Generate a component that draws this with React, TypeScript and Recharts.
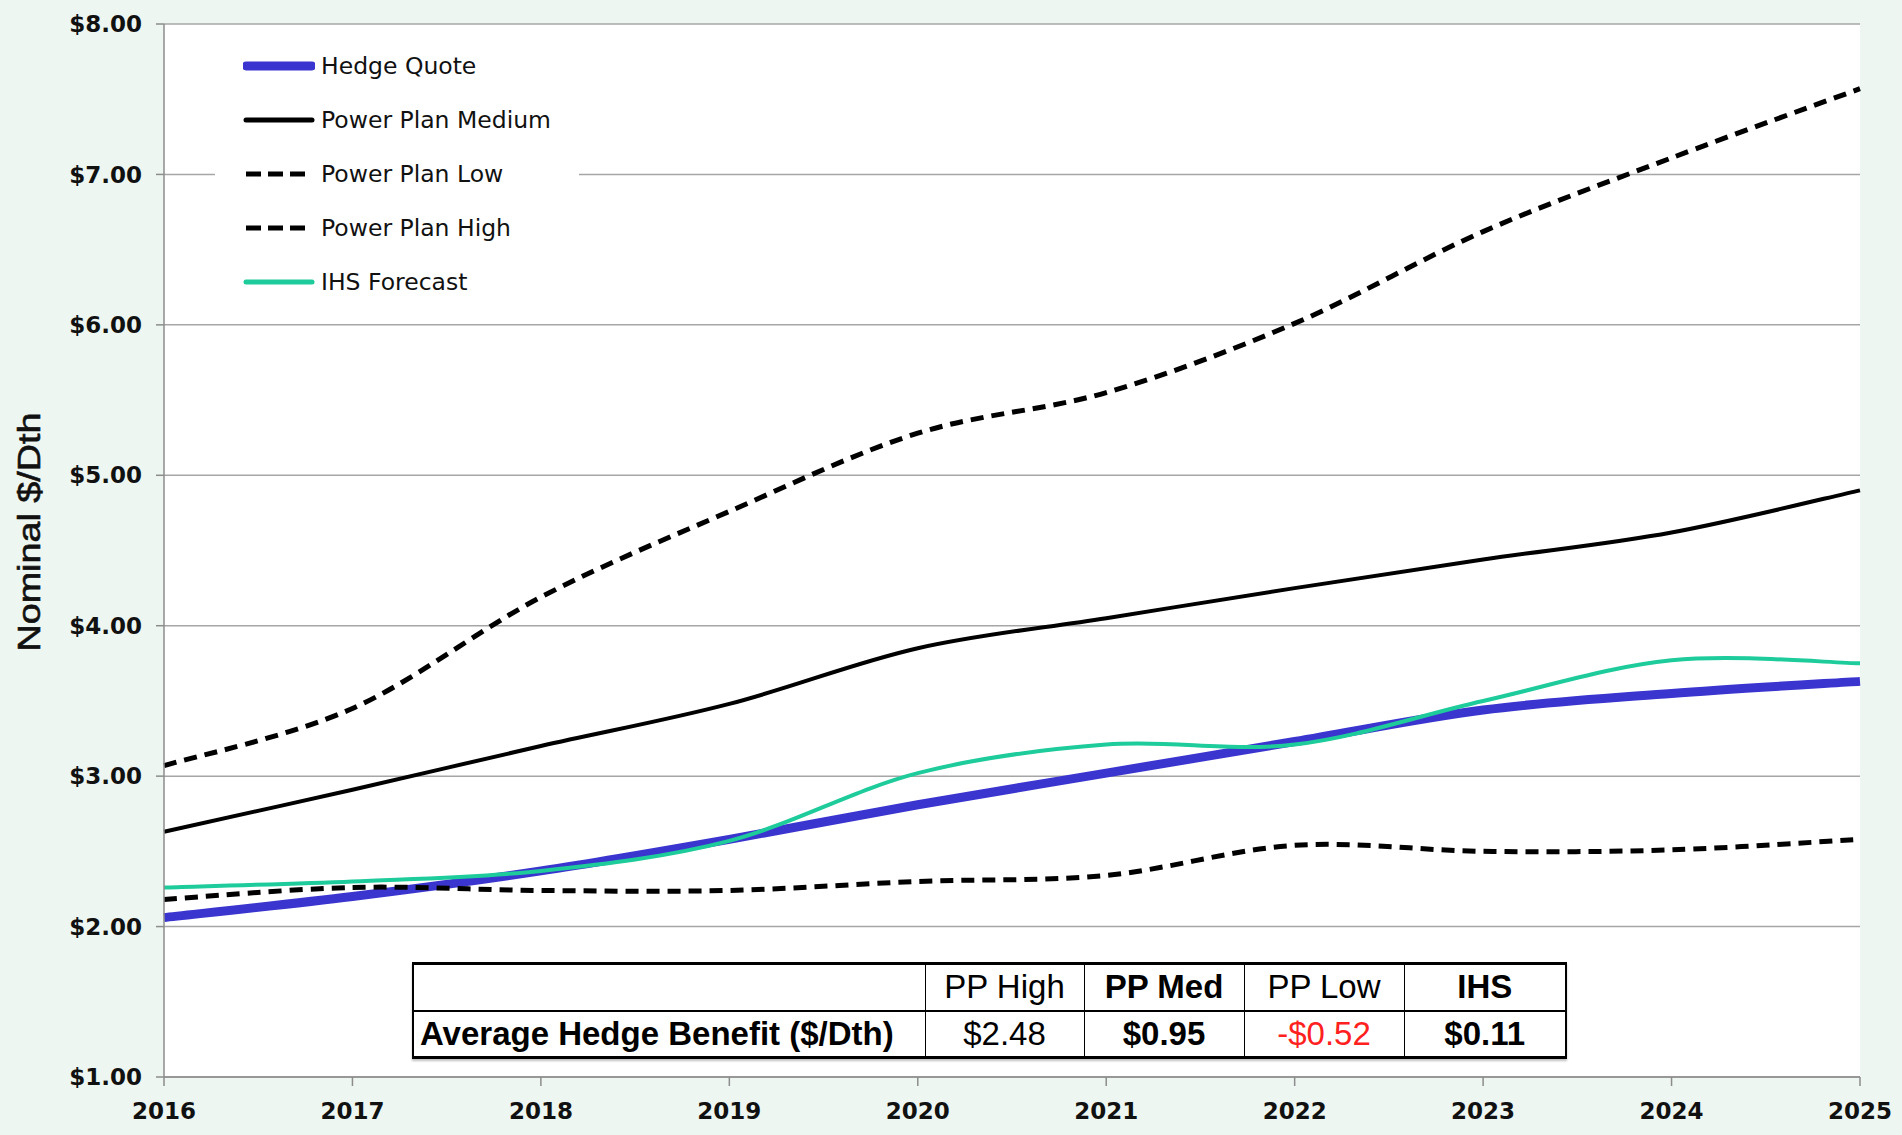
import { LineChart, Line, XAxis, YAxis, CartesianGrid, Legend } from 'recharts';

const years = [2016, 2017, 2018, 2019, 2020, 2021, 2022, 2023, 2024, 2025];
const hedgeQuote = [2.06, 2.2, 2.37, 2.58, 2.81, 3.02, 3.23, 3.44, 3.55, 3.63];
const ppMedium = [2.63, 2.91, 3.2, 3.48, 3.85, 4.05, 4.25, 4.44, 4.62, 4.9];
const ppLow = [2.18, 2.26, 2.24, 2.24, 2.3, 2.34, 2.54, 2.5, 2.51, 2.58];
const ppHigh = [3.07, 3.45, 4.19, 4.76, 5.28, 5.55, 6.01, 6.62, 7.11, 7.57];
const ihsForecast = [2.26, 2.3, 2.37, 2.57, 3.02, 3.21, 3.21, 3.5, 3.77, 3.75];
const yTicks = [1, 2, 3, 4, 5, 6, 7, 8];

const tableHeaders = ['PP High', 'PP Med', 'PP Low', 'IHS'];
const tableValues = ['$2.48', '$0.95', '-$0.52', '$0.11'];
const tableRowLabel = 'Average Hedge Benefit ($/Dth)';

const chartData = years.map((year, i) => ({
  year,
  hedge: hedgeQuote[i],
  medium: ppMedium[i],
  low: ppLow[i],
  high: ppHigh[i],
  ihs: ihsForecast[i],
}));

const series = [
  { key: 'hedge', name: 'Hedge Quote', color: '#3B35CF', width: 9, dash: undefined, legendWidth: 9 },
  { key: 'medium', name: 'Power Plan Medium', color: '#000000', width: 4, dash: undefined, legendWidth: 5 },
  { key: 'low', name: 'Power Plan Low', color: '#000000', width: 5, dash: '13 8', legendWidth: 5 },
  { key: 'high', name: 'Power Plan High', color: '#000000', width: 5, dash: '13 8', legendWidth: 5 },
  { key: 'ihs', name: 'IHS Forecast', color: '#1ECB9B', width: 4, dash: undefined, legendWidth: 5 },
];

// Excel-style smoothed line (Catmull-Rom through every point)
function excelSmooth(context: any) {
  let pts: number[][] = [];
  return {
    areaStart() {},
    areaEnd() {},
    lineStart() {
      pts = [];
    },
    point(x: number, y: number) {
      pts.push([+x, +y]);
    },
    lineEnd() {
      const n = pts.length;
      if (!n) return;
      context.moveTo(pts[0][0], pts[0][1]);
      for (let i = 0; i < n - 1; i++) {
        const p0 = pts[Math.max(i - 1, 0)];
        const p1 = pts[i];
        const p2 = pts[i + 1];
        const p3 = pts[Math.min(i + 2, n - 1)];
        context.bezierCurveTo(
          p1[0] + (p2[0] - p0[0]) / 6,
          p1[1] + (p2[1] - p0[1]) / 6,
          p2[0] - (p3[0] - p1[0]) / 6,
          p2[1] - (p3[1] - p1[1]) / 6,
          p2[0],
          p2[1]
        );
      }
    },
  };
}

function AxisTitle() {
  return (
    <text
      x={0}
      y={0}
      transform="translate(29,532) rotate(-90) scale(1.18,1)"
      textAnchor="middle"
      dominantBaseline="central"
      fontFamily="'Liberation Sans', Arial, sans-serif"
      fontSize={32}
      fill="#111"
      stroke="#111"
      strokeWidth={0.6}
    >
      Nominal $/Dth
    </text>
  );
}

function renderLegend() {
  return (
    <div style={{ background: '#fff', width: 364, height: 270 }}>
      {series.map((s) => (
        <div
          key={s.key}
          style={{ display: 'flex', alignItems: 'center', height: 54, paddingLeft: 28 }}
        >
          <svg width={72} height={14}>
            <line
              x1={3}
              x2={69}
              y1={7}
              y2={7}
              stroke={s.color}
              strokeWidth={s.legendWidth}
              strokeDasharray={s.dash ? '15 7' : undefined}
              strokeLinecap={s.dash ? 'butt' : 'round'}
            />
          </svg>
          <span
            style={{
              marginLeft: 6,
              fontFamily: "'DejaVu Sans', Verdana, sans-serif",
              fontSize: 23.5,
              color: '#111',
              whiteSpace: 'nowrap',
            }}
          >
            {s.name}
          </span>
        </div>
      ))}
    </div>
  );
}

const colWidths = [512, 159, 160, 160, 162];
const cellBase = {
  borderLeft: '1.5px solid #000',
  textAlign: 'center' as const,
  fontFamily: "'Liberation Sans', Arial, sans-serif",
  fontSize: 33,
  padding: 0,
  color: '#000',
};

function BenefitTable() {
  return (
    <table
      style={{
        position: 'absolute',
        left: 412,
        top: 962,
        width: 1153,
        borderCollapse: 'collapse',
        background: '#fff',
        borderTop: '3px solid #000',
        borderBottom: '3px solid #000',
        borderRight: '2px solid #000',
        borderLeft: '2px solid #000',
        boxShadow: '0 2px 2px rgba(0,0,0,0.25)',
        tableLayout: 'fixed',
      }}
    >
      <colgroup>
        {colWidths.map((w, i) => (
          <col key={i} style={{ width: w }} />
        ))}
      </colgroup>
      <tbody>
        <tr style={{ height: 47, borderBottom: '2px solid #000' }}>
          <td style={{ ...cellBase, borderLeft: 'none' }} />
          {tableHeaders.map((h, i) => (
            <td key={h} style={{ ...cellBase, fontWeight: i % 2 === 1 ? 700 : 400 }}>
              {h}
            </td>
          ))}
        </tr>
        <tr style={{ height: 47 }}>
          <td
            style={{
              ...cellBase,
              borderLeft: 'none',
              textAlign: 'left',
              fontWeight: 700,
              paddingLeft: 6,
              whiteSpace: 'nowrap',
            }}
          >
            {tableRowLabel}
          </td>
          {tableValues.map((v, i) => (
            <td
              key={v}
              style={{
                ...cellBase,
                fontWeight: i % 2 === 1 ? 700 : 400,
                color: v.startsWith('-') ? '#FF2020' : '#000',
              }}
            >
              {v}
            </td>
          ))}
        </tr>
      </tbody>
    </table>
  );
}

export default function App() {
  return (
    <div
      style={{
        position: 'absolute',
        left: 0,
        top: 0,
        width: 1902,
        height: 1135,
        background: '#EDF6F1',
        overflow: 'hidden',
      }}
    >
      <LineChart
        width={1902}
        height={1135}
        data={chartData}
        margin={{ top: 24, right: 42, bottom: 0, left: 0 }}
      >
        <CartesianGrid vertical={false} stroke="#A6A6A6" strokeWidth={1.5} fill="#ffffff" />
        <XAxis
          dataKey="year"
          type="number"
          domain={[2016, 2025]}
          ticks={years}
          interval={0}
          height={58}
          axisLine={{ stroke: '#8C8C8C', strokeWidth: 1.5 }}
          tickLine={{ stroke: '#8C8C8C', strokeWidth: 1.5 }}
          tickSize={9}
          tickMargin={17}
          tick={{
            fontSize: 23,
            fontWeight: 700,
            fontFamily: "'DejaVu Sans', Verdana, sans-serif",
            fill: '#111',
          }}
        />
        <YAxis
          type="number"
          domain={[1, 8]}
          ticks={yTicks}
          interval={0}
          width={164}
          axisLine={{ stroke: '#8C8C8C', strokeWidth: 1.5 }}
          tickLine={{ stroke: '#8C8C8C', strokeWidth: 1.5 }}
          tickSize={8}
          tickMargin={14}
          tickFormatter={(v: number) => `$${v.toFixed(2)}`}
          tick={{
            fontSize: 23,
            fontWeight: 700,
            fontFamily: "'DejaVu Sans', Verdana, sans-serif",
            fill: '#111',
          }}
          label={<AxisTitle />}
        />
        <Legend
          content={renderLegend}
          layout="vertical"
          align="center"
          verticalAlign="middle"
          wrapperStyle={{ left: 215, top: 39, width: 364, height: 270 }}
        />
        {series.map((s) => (
          <Line
            key={s.key}
            dataKey={s.key}
            name={s.name}
            type={excelSmooth as any}
            stroke={s.color}
            strokeWidth={s.width}
            strokeDasharray={s.dash}
            dot={false}
            activeDot={false}
            isAnimationActive={false}
          />
        ))}
      </LineChart>
      <BenefitTable />
    </div>
  );
}
